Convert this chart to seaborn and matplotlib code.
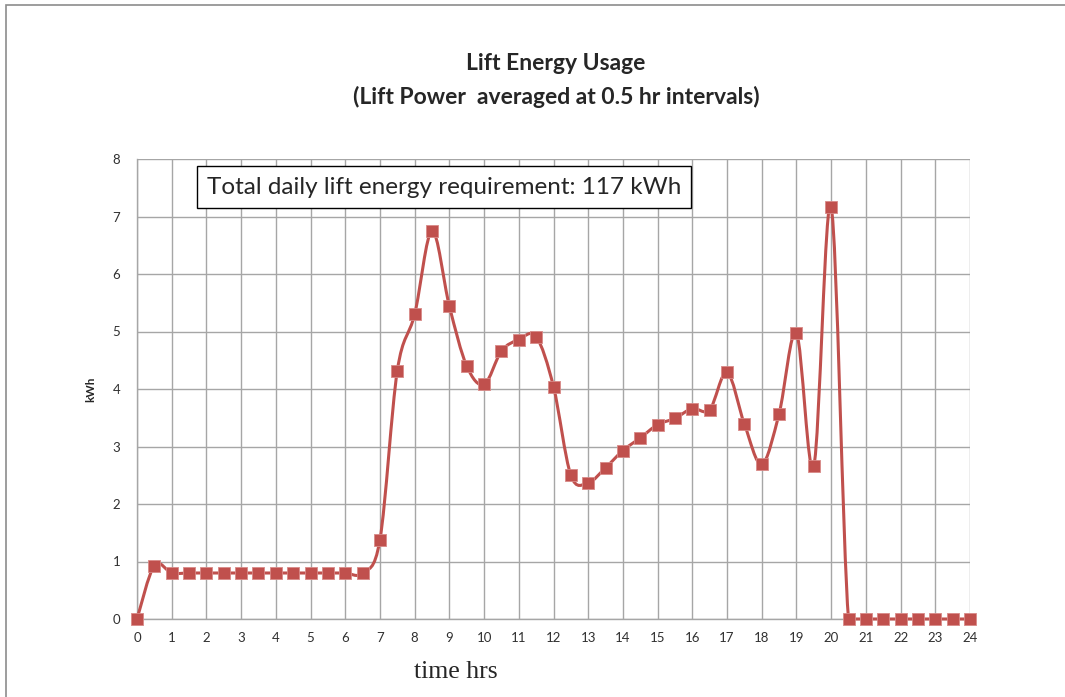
import numpy as np
import pandas as pd
import seaborn as sns
import matplotlib.pyplot as plt
from matplotlib.path import Path
from matplotlib.patches import PathPatch, Rectangle

# half-hourly lift energy, kWh
hours = [0, 0.5, 1, 1.5, 2, 2.5, 3, 3.5, 4, 4.5, 5, 5.5, 6, 6.5, 7, 7.5, 8, 8.5,
         9, 9.5, 10, 10.5, 11, 11.5, 12, 12.5, 13, 13.5, 14, 14.5, 15, 15.5, 16,
         16.5, 17, 17.5, 18, 18.5, 19, 19.5, 20, 20.5, 21, 21.5, 22, 22.5, 23,
         23.5, 24]
kwh = [0, 0.93, 0.8, 0.8, 0.8, 0.8, 0.8, 0.8, 0.8, 0.8, 0.8, 0.8, 0.8, 0.8,
       1.38, 4.32, 5.3, 6.75, 5.44, 4.4, 4.08, 4.66, 4.86, 4.91, 4.04, 2.5,
       2.37, 2.63, 2.93, 3.15, 3.38, 3.49, 3.66, 3.64, 4.29, 3.39, 2.69, 3.57,
       4.97, 2.66, 7.17, 0, 0, 0, 0, 0, 0, 0, 0]
x_ticks = list(range(0, 25))
y_ticks = list(range(0, 9))

RED = "#C0504D"
df = pd.DataFrame({"time": hours, "kWh": kwh})

sns.set_style("white")
plt.rcParams["font.family"] = ["Lato", "DejaVu Sans"]

fig = plt.figure(figsize=(10.65, 6.97), dpi=100)
ax = fig.add_axes([137 / 1065, 1 - 619 / 697, 833 / 1065, 460 / 697])

# smoothed line like excel (catmull-rom bezier through the points)
px = df["time"].to_numpy()
py = df["kWh"].to_numpy()
verts = [(px[0], py[0])]
codes = [Path.MOVETO]
n = len(px)
for i in range(n - 1):
    i0 = max(i - 1, 0)
    i3 = min(i + 2, n - 1)
    c1y = max(py[i] + (py[i + 1] - py[i0]) / 6, 0)
    c2y = max(py[i + 1] - (py[i3] - py[i]) / 6, 0)
    c1 = (px[i] + (px[i + 1] - px[i0]) / 6, c1y)
    c2 = (px[i + 1] - (px[i3] - px[i]) / 6, c2y)
    verts += [c1, c2, (px[i + 1], py[i + 1])]
    codes += [Path.CURVE4] * 3
ax.add_patch(PathPatch(Path(verts, codes), facecolor="none", edgecolor=RED,
                       lw=2.2, zorder=3, clip_on=False))

sns.scatterplot(data=df, x="time", y="kWh", marker="s", s=80, color=RED,
                edgecolor="#D88A88", linewidth=0.6, ax=ax, zorder=4, clip_on=False)

ax.set_xlim(0, 24)
ax.set_ylim(0, 8)
ax.set_xticks(x_ticks)
ax.set_yticks(y_ticks)
ax.grid(True, color="#A6A6A6", lw=1.0)
ax.set_axisbelow(True)
for s in ["top", "right"]:
    ax.spines[s].set_visible(False)
for s in ["left", "bottom"]:
    ax.spines[s].set_color("#A6A6A6")
    ax.spines[s].set_linewidth(1.0)
ax.tick_params(axis="both", which="both", length=4, width=1.0, color="#A6A6A6",
               labelsize=9.5, labelcolor="#303030", direction="out")
ax.tick_params(axis="y", pad=8)
ax.tick_params(axis="x", pad=5)
ax.set_xlabel("")
ax.set_ylabel("kWh", fontsize=8.5, fontweight="bold", labelpad=12)

fig.text(556 / 1065, 1 - 64 / 697, "Lift Energy Usage", ha="center", va="center",
         fontsize=16.5, fontweight="bold")
fig.text(556 / 1065, 1 - 97 / 697, "(Lift Power  averaged at 0.5 hr intervals)",
         ha="center", va="center", fontsize=16.5, fontweight="bold")

fig.text(444 / 1065, 1 - 187 / 697, "Total daily lift energy requirement: 117 kWh",
         ha="center", va="center", fontsize=17.5,
         bbox=dict(boxstyle="square,pad=0.42", fc="white", ec="black", lw=1.0))

fig.text(456 / 1065, 1 - 672 / 697, "time hrs", ha="center", va="center",
         fontsize=18.5, family="Liberation Serif")

# chart border (cut off by the page at right and bottom)
fig.patches.append(Rectangle((6 / 1065, -0.05), 1.2, 1 - 4.5 / 697 + 0.05,
                             transform=fig.transFigure, fill=False,
                             ec="#8C8C8C", lw=1.2))

fig.savefig("out.png", dpi=100)
